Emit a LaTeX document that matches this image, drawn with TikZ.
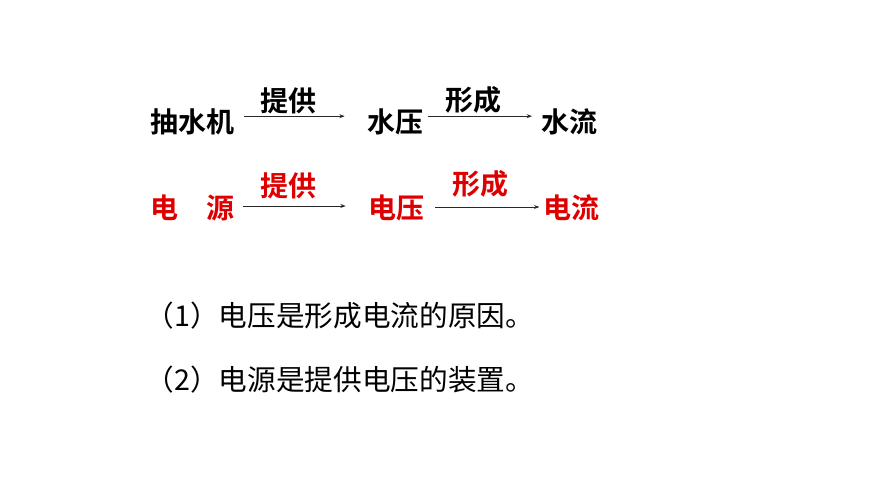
\documentclass[tikz,border=0pt]{standalone}
\usepackage{fontspec}
\newfontfamily\cjk[BoldFont={Noto Sans CJK SC Bold}]{Noto Sans CJK SC}
\usetikzlibrary{arrows.meta}
\definecolor{srcred}{RGB}{222,0,0}
\tikzset{every picture/.style={line width=0.75pt}}
\tikzset{
  term/.style={inner sep=0.75pt,font=\cjk\bfseries\fontsize{21}{25}\selectfont},
  verb/.style={inner sep=0.75pt,font=\cjk\bfseries\fontsize{21}{25}\selectfont},
  note/.style={inner sep=0.75pt,anchor=west,font=\cjk\fontsize{21.5}{26}\selectfont},
  link/.style={draw={rgb,255:red,40;green,40;blue,40},line width=0.6pt,-{Stealth[length=4pt,width=3pt]}}
}

\begin{document}
\begin{tikzpicture}[x=0.75pt,y=0.75pt,yscale=-1,xscale=1]
\useasboundingbox (0,0) rectangle (870,489);

% Text Node
\draw (149,121.5) node [term,anchor=west] (pump) {抽水机};
% Text Node
\draw (366,121.5) node [term,anchor=west] (wpress) {水压};
% Text Node
\draw (540,121.5) node [term,anchor=west] (wflow) {水流};
% Text Node
\draw (288,101) node [verb] (give1) {提供};
% Text Node
\draw (473,100) node [verb] (form1) {形成};

% Text Node
\draw (149,208) node [term,anchor=west,text=srcred] (source) {电　源};
% Text Node
\draw (367,208) node [term,anchor=west,text=srcred] (volt) {电压};
% Text Node
\draw (542,208) node [term,anchor=west,text=srcred] (curr) {电流};
% Text Node
\draw (288,186) node [verb,text=srcred] (give2) {提供};
% Text Node
\draw (480,184) node [verb,text=srcred] (form2) {形成};

%Straight Lines
\draw [link,shorten <=6pt,shorten >=16pt] ([yshift=-4pt]pump.east) -- ([yshift=-4pt]wpress.west);
\draw [link,shorten <=2pt,shorten >=6pt] ([yshift=-4pt]wpress.east) -- ([yshift=-4pt]wflow.west);
\draw [link,shorten <=5pt,shorten >=16pt] ([yshift=-1.5pt]source.east) -- ([yshift=-1.5pt]volt.west);
\draw [link,shorten <=7pt,shorten >=2pt] ([yshift=-0.75pt]volt.east) -- ([yshift=-0.75pt]curr.west);

% Text Node
\draw (144,316) node [note] (fact1) {（1）电压是形成电流的原因。};
% Text Node
\draw (144,380) node [note] (fact2) {（2）电源是提供电压的装置。};
\end{tikzpicture}
\end{document}
